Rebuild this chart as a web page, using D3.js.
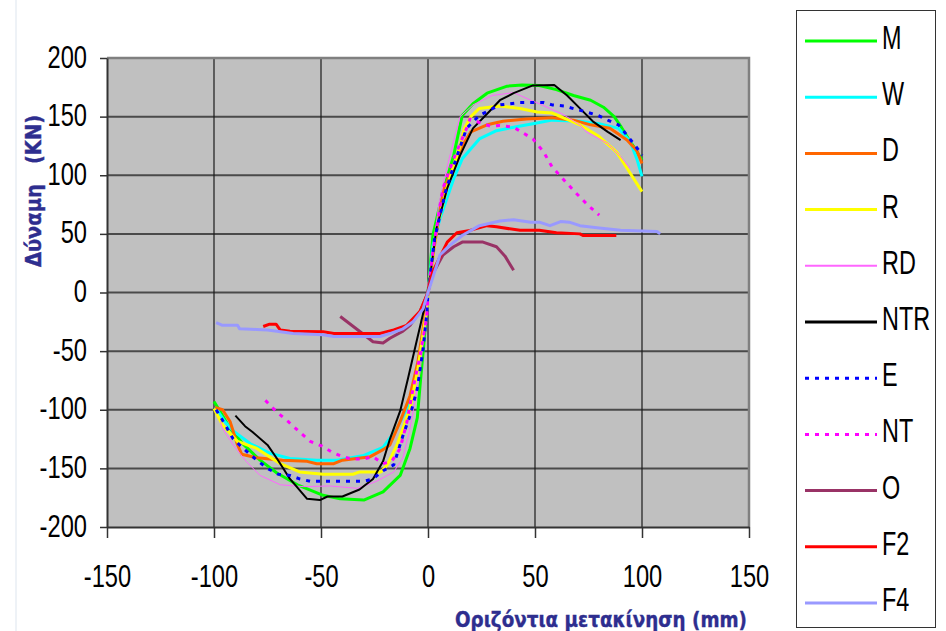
<!DOCTYPE html>
<html>
<head>
<meta charset="utf-8">
<script src="https://cdn.jsdelivr.net/npm/d3@7"></script>
<style>
  html, body { margin: 0; padding: 0; background: #fff; }
  svg { display: block; }
  .num { font-family: "Liberation Sans", Arial, sans-serif; font-size: 30px; fill: #000; }
  .title { font-family: "DejaVu Sans", sans-serif; font-weight: bold; font-size: 22px; fill: #2E2E8F; stroke: #2E2E8F; stroke-width: 0.4px; }
</style>
</head>
<body>
<svg id="chart" width="946" height="631"></svg>
<script>
// ---- data ----
const xTicks = [-150, -100, -50, 0, 50, 100, 150];
const yTicks = [-200, -150, -100, -50, 0, 50, 100, 150, 200];
const seriesNames = ["M", "W", "D", "R", "RD", "NTR", "E", "NT", "O", "F2", "F4"];

const M = [[-100,-93],[-96,-105],[-92.5,-116],[-86,-130],[-78.5,-143],[-70.6,-154],[-61,-164],[-49,-173],[-41,-176],[-30,-177],[-21,-170],[-13,-156],[-8.4,-133],[-5,-107],[-3.7,-79],[-2,-45],[0,0],[2.3,49],[7,86],[12,117],[16,151],[21,161],[27.6,170],[37,176],[44,177],[52,176.5],[60,173],[68,168],[76,164],[82,158],[87,150],[90,142],[94,130],[97,122],[100,113]];
const W = [[-100,-99],[-98.6,-100],[-95,-110],[-91,-118],[-83,-129],[-74,-137],[-64.5,-141.6],[-52,-143],[-42.5,-143],[-30,-139],[-21,-132],[-14.5,-116],[-8.4,-93],[-3.7,-54],[-0.5,-11],[0,0],[2.3,40],[5.6,63],[12,97],[16,114],[24,131],[32,138],[40,141],[49,144],[58,147],[71,146],[80,144],[89,140],[94.4,129],[97.6,114],[100,99]];
const D = [[-99.5,-98],[-96,-100],[-92.5,-110],[-89,-130],[-87,-138],[-80,-141],[-68,-143],[-56.5,-144],[-52,-146],[-44,-146],[-40,-143],[-27,-140],[-21,-134],[-17.8,-130],[-13,-110],[-8.4,-88],[-4.7,-59],[-1.4,-20],[0,0],[3,40],[7,86],[12,108],[16,125],[20,137],[27.6,143],[35,146],[46,148],[58,149],[68,147],[76,143],[85,140],[93,130],[97.6,121],[100,110]];
const R = [[-100,-99],[-96,-113],[-89,-127],[-80,-133],[-69,-146],[-60,-153],[-49,-155],[-35,-155],[-32,-153],[-22,-153],[-19,-147],[-14.5,-130],[-8.4,-99],[-4.7,-65],[-0.5,-14],[0,0],[4,55],[10,97],[15,125],[17,140],[20,150],[24,157],[33.6,159],[43,157],[51,154],[58,153],[62,150],[71,143],[80,133],[88,120],[93,106],[100,86]];
const RD = [[-97,-110],[-96,-116],[-91,-130],[-85,-144],[-78.5,-156],[-69,-164],[-58,-165.6],[-46,-165],[-33,-167],[-24,-161],[-16,-153],[-11.7,-141],[-8.4,-116],[-3.7,-68],[0,0],[5,75],[10,115],[15,150],[21,160],[30,168],[40,170.5],[48,164],[52,161],[58,156],[62,153],[71,143],[74,137],[84,127],[90,116],[94.4,106]];
const NTR = [[-90,-105],[-85.5,-114],[-82,-119],[-75,-130],[-70.6,-141.6],[-64.5,-159],[-56.5,-176],[-50.5,-177],[-47,-174],[-40,-174],[-32,-168],[-25.7,-159],[-21,-144],[-17.8,-125],[-13,-101],[-9.3,-73],[-5,-39],[-1.4,-11],[0,0],[4,55],[9,89],[15,117],[21,140],[29,155],[33.6,164],[40,170],[49,176.6],[59,177],[65,168],[71,157],[77,146],[84,137],[90,130]];
const E = [[-99,-100],[-96,-109],[-91,-125],[-85,-135],[-80,-143],[-75,-150],[-70,-155],[-64.5,-156],[-60,-159],[-55,-161],[-46,-161],[-30,-161],[-25.7,-159],[-21,-152],[-16,-147],[-11.7,-122],[-8.4,-105],[-5,-82],[-2.3,-48],[-0.5,-16],[0,0],[3,45],[8,85],[12,108],[18,140],[24,151],[33.6,160],[43,162],[54,162],[58,160],[64,159],[69.6,156],[74,154],[79.4,151],[84,147],[89,143],[93.5,133],[98.6,121],[100,117]];
const NT = [[-76,-92],[-70.6,-102],[-65.4,-110],[-60,-119],[-55,-127],[-49.5,-131],[-45,-136],[-40,-140],[-35.5,-142],[-30,-142],[-25.7,-140],[-21,-146],[-17,-144],[-13,-133],[-9.8,-110],[-7,-82],[-3.7,-54],[-0.5,-20],[0,0],[2.3,35],[7,89],[12,114],[18,140],[19.6,148],[24,145],[29,142],[33.6,142.5],[40,141],[49,131],[54,120],[58,107],[65,93],[69.6,84],[75,74],[80,66]];
const O = [[-41,-20.5],[-32,-33],[-25.7,-42],[-21,-43],[-17.8,-39],[-11.7,-33],[-8.4,-28],[-3.7,-16],[0,0],[1,12],[7,32],[12,39],[16,43],[25.7,43],[32,39],[36,31],[40,19]];
const F2 = [[-77,-29],[-74,-27],[-71,-27],[-69,-32],[-64.5,-33],[-49,-33.5],[-44,-35],[-22.4,-35],[-16,-32],[-10,-28],[-3.7,-16],[0,0],[2.3,18],[9,43],[13.5,51],[19.6,53],[27.6,57],[32,56],[43,53],[52,53],[60,51],[71,50],[72.4,48.6],[84,48.6],[88,48.6]];
const F4 = [[-99,-25.6],[-96,-28],[-89,-28],[-88,-31],[-80,-31.5],[-75,-32],[-70.6,-33],[-63,-35],[-49,-36],[-44,-37.5],[-22.4,-37.5],[-17.8,-35],[-11.7,-31],[-7,-25],[-2.3,-14],[0,0],[5.6,32],[10,40],[16,48.6],[24,57],[33.6,61],[40,62],[48,60],[52,60],[57,57],[62,60.5],[66,60],[71,57],[80,55],[90,53],[107,52],[108.5,50]];

const seriesData = [M, W, D, R, RD, NTR, E, NT, O, F2, F4];
const seriesColors = ["#00FF00", "#00FFFF", "#FF6600", "#FFFF00", "#FF66FF", "#000000", "#0000FF", "#FF00FF", "#993366", "#FF0000", "#9999FF"];
const seriesWidths = [3, 3, 3, 3, 1, 2, 3, 3, 3, 3, 3];
const seriesDash = [null, null, null, null, null, null, "4,6", "4,6", null, null, null];

// ---- layout ----
const svg = d3.select("#chart");
const L = 107, T = 58, Rr = 749, B = 527;
const x = d3.scaleLinear().domain([-150, 150]).range([L, Rr]);
const y = d3.scaleLinear().domain([-200, 200]).range([B, T]);
const fmt = d => String(d);

// faint outer frame line
svg.append("line").attr("x1", 16).attr("x2", 16).attr("y1", 0).attr("y2", 631)
  .attr("stroke", "#dde5ee").attr("stroke-width", 1);

// plot area
svg.append("rect").attr("x", L).attr("y", T).attr("width", Rr - L).attr("height", B - T)
  .attr("fill", "#C0C0C0");

// horizontal gridlines
svg.append("g").selectAll("line").data(yTicks.filter(v => v > -200 && v < 200)).join("line")
  .attr("x1", L).attr("x2", Rr).attr("y1", d => y(d)).attr("y2", d => y(d))
  .attr("stroke", "#4a4a4a").attr("stroke-width", 2);
// vertical gridlines
svg.append("g").selectAll("line").data(xTicks.filter(v => v > -150 && v < 150)).join("line")
  .attr("x1", d => x(d)).attr("x2", d => x(d)).attr("y1", T).attr("y2", B)
  .attr("stroke", "#1a1a1a").attr("stroke-width", 1.2);

// top / right border
svg.append("path").attr("d", `M${L},${T}H${Rr}V${B}`).attr("fill", "none")
  .attr("stroke", "#808080").attr("stroke-width", 2.5);

// axes
const xAxis = d3.axisBottom(x).tickValues(xTicks).tickSize(11).tickSizeOuter(0).tickFormat(fmt);
const gx = svg.append("g").attr("transform", `translate(0,${B})`).call(xAxis)
  .attr("font-family", null).attr("font-size", null);
gx.select(".domain").attr("stroke", "#333").attr("stroke-width", 2);
gx.selectAll(".tick line").attr("stroke", "#333").attr("stroke-width", 1.5);
gx.selectAll(".tick text").attr("class", "num").attr("y", 0).attr("dy", null)
  .attr("transform", "translate(0,60) scale(0.79,1.03)");

const yAxis = d3.axisLeft(y).tickValues(yTicks).tickSize(7).tickSizeOuter(0).tickFormat(fmt);
const gy = svg.append("g").attr("transform", `translate(${L},0)`).call(yAxis)
  .attr("font-family", null).attr("font-size", null);
gy.select(".domain").attr("stroke", "#333").attr("stroke-width", 2);
gy.selectAll(".tick line").attr("stroke", "#333").attr("stroke-width", 1.5);
gy.selectAll(".tick text").attr("class", "num").attr("dy", null).attr("y", 0).attr("x", 0)
  .attr("transform", "translate(-20,9) scale(0.79,1.03)");

// series
const line = d3.line().x(d => x(d[0])).y(d => y(d[1]));
const gs = svg.append("g");
seriesData.forEach((s, i) => {
  gs.append("path").datum(s).attr("d", line).attr("fill", "none")
    .attr("stroke", seriesColors[i]).attr("stroke-width", seriesWidths[i])
    .attr("stroke-dasharray", seriesDash[i]).attr("stroke-linejoin", "round");
});

// axis titles
svg.append("text").attr("class", "title")
  .attr("transform", "translate(41,267) rotate(-90)")
  .attr("textLength", 152).attr("lengthAdjust", "spacingAndGlyphs")
  .attr("xml:space", "preserve")
  .text("Δύναμη   (KN)");
svg.append("text").attr("class", "title")
  .attr("x", 455).attr("y", 627)
  .attr("textLength", 292).attr("lengthAdjust", "spacingAndGlyphs")
  .text("Οριζόντια μετακίνηση (mm)");

// legend
const lg = svg.append("g");
lg.append("rect").attr("x", 796.5).attr("y", 10.5).attr("width", 139).attr("height", 617)
  .attr("fill", "#fff").attr("stroke", "#333").attr("stroke-width", 1);
seriesNames.forEach((n, i) => {
  const ly = 41 + i * 56.2;
  lg.append("line").attr("x1", 805).attr("x2", 877).attr("y1", ly).attr("y2", ly)
    .attr("stroke", seriesColors[i]).attr("stroke-width", seriesWidths[i] === 1 ? 2 : 3)
    .attr("stroke-dasharray", seriesDash[i]);
  lg.append("text").attr("class", "num")
    .attr("transform", `translate(882,${ly + 8}) scale(0.78,1.1)`)
    .text(n);
});
</script>
</body>
</html>
